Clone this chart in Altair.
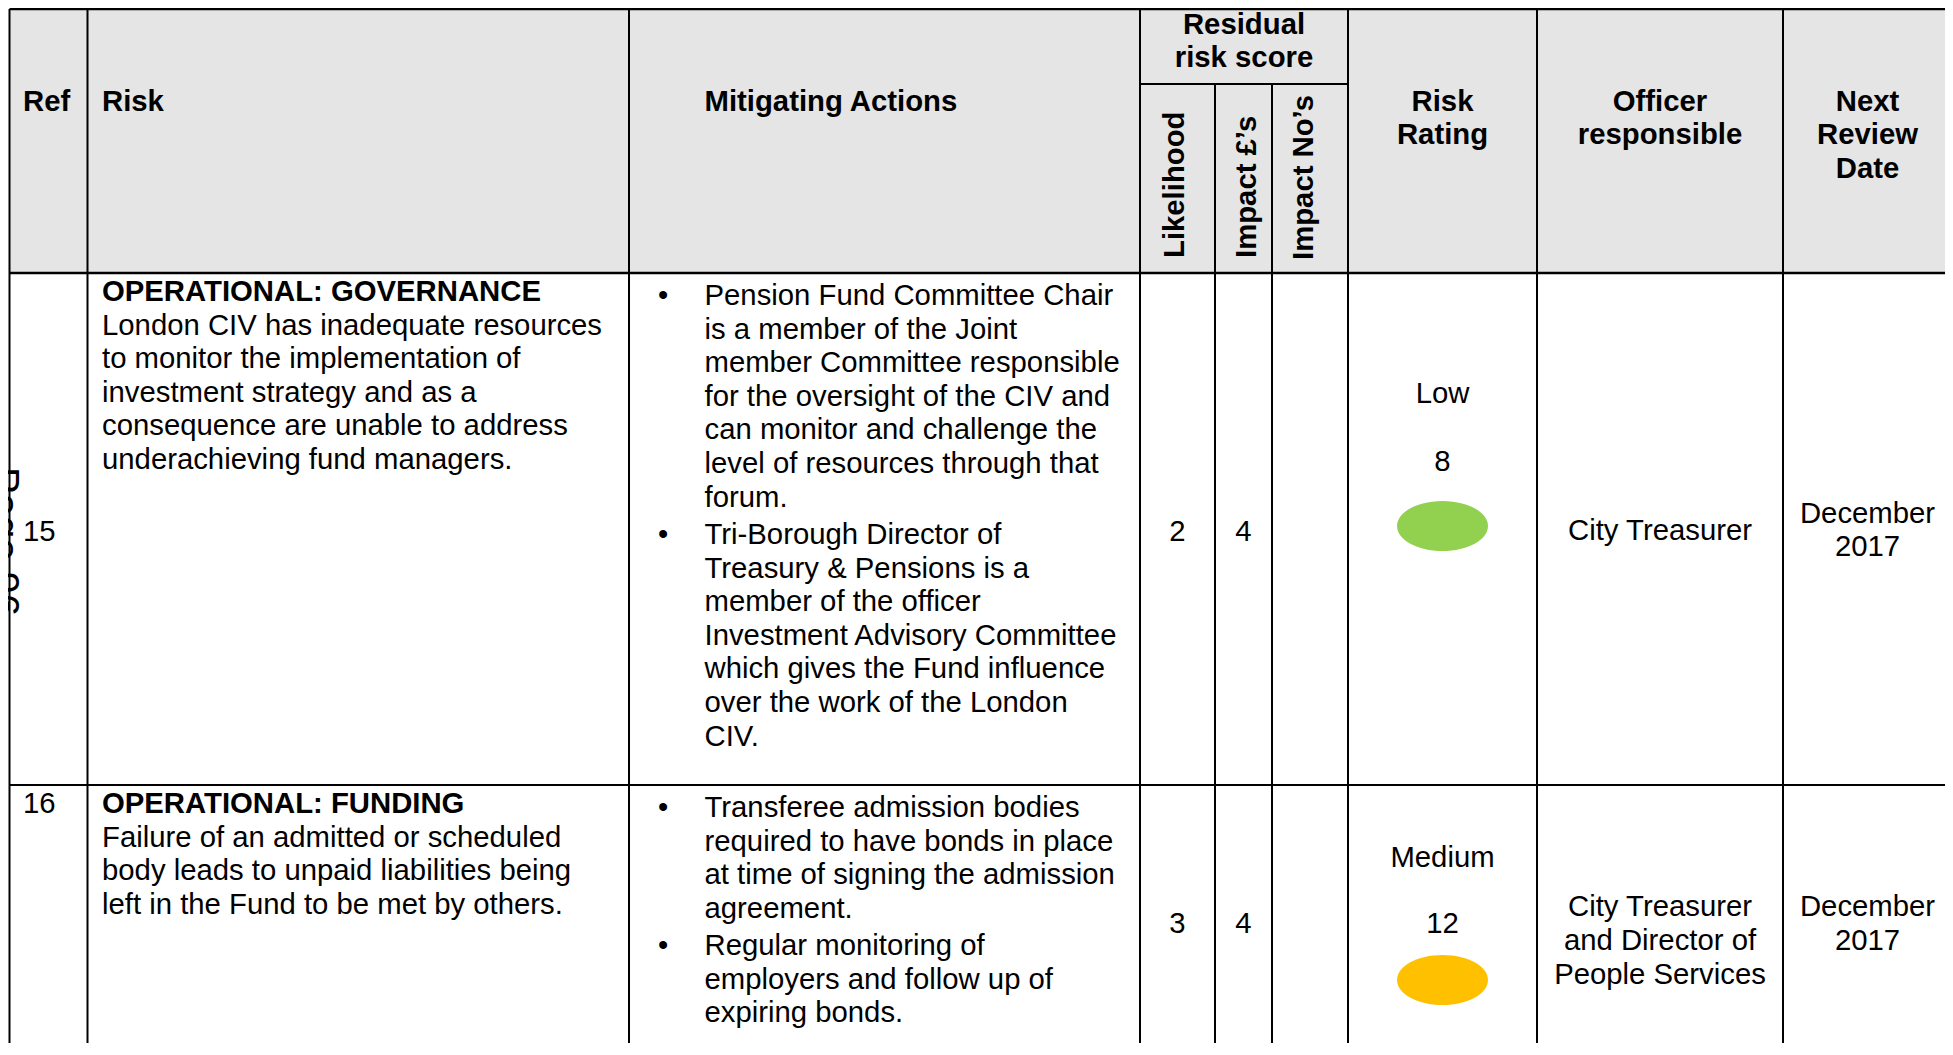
import altair as alt
import pandas as pd

# ---------------- data (table content) ----------------
header_left = ["Ref", "Risk", "Mitigating Actions"]
header_group = ["Residual", "risk score"]
header_rotated = ["Likelihood", "Impact £’s", "Impact No’s"]
header_rating = ["Risk", "Rating"]
header_officer = ["Officer", "responsible"]
header_review = ["Next", "Review", "Date"]

refs = ["15", "16"]
risk_titles = ["OPERATIONAL: GOVERNANCE", "OPERATIONAL: FUNDING"]
risk_lines = [
    ["London CIV has inadequate resources",
     "to monitor the implementation of",
     "investment strategy and as a",
     "consequence are unable to address",
     "underachieving fund managers."],
    ["Failure of an admitted or scheduled",
     "body leads to unpaid liabilities being",
     "left in the Fund to be met by others."],
]
actions = [
    [["Pension Fund Committee Chair",
      "is a member of the Joint",
      "member Committee responsible",
      "for the oversight of the CIV and",
      "can monitor and challenge the",
      "level of resources through that",
      "forum."],
     ["Tri-Borough Director of",
      "Treasury & Pensions is a",
      "member of the officer",
      "Investment Advisory Committee",
      "which gives the Fund influence",
      "over the work of the London",
      "CIV."]],
    [["Transferee admission bodies",
      "required to have bonds in place",
      "at time of signing the admission",
      "agreement."],
     ["Regular monitoring of",
      "employers and follow up of",
      "expiring bonds."]],
]
likelihood = [2, 3]
impact_money = [4, 4]
impact_numbers = ["", ""]
rating_labels = ["Low", "Medium"]
rating_scores = [8, 12]
rating_colors = ["#92D050", "#FFC000"]
officers = [["City Treasurer"], ["City Treasurer", "and Director of", "People Services"]]
review_dates = [["December", "2017"], ["December", "2017"]]
page_label = "Page 96"

# ---------------- layout (page pixel coordinates) ----------------
FONT = "Liberation Sans"
FS = 29.3
LH = 33.6
PARA_GAP = 3.8
MARGIN = 8
W, H = 1937, 1035

col_edges = [9.5, 87.5, 629, 1140, 1215, 1272, 1348, 1537, 1783, 1952]
table_top = 8.9
sub_rule_y = 84
header_bottom = 273
row_divider = 785
table_bottom = 1070


def mid(i):
    return (col_edges[i] + col_edges[i + 1]) / 2


ref_x, risk_x, bullet_x, action_x = 23, 102, 663, 704.5
rot_x = [1184, 1256, 1313]
rot_y = [258, 258, 260]

row_layout = [
    dict(ref_y=540.5, risk_y=301, act_y=305, score_y=540.5, label_y=403.3,
         rscore_y=470.5, dot_y=526, officer_y=540.3, date_y=522.8),
    dict(ref_y=813, risk_y=813, act_y=817, score_y=932.7, label_y=866.6,
         rscore_y=932.7, dot_y=980, officer_y=916.4, date_y=916.4),
]

# ---------------- build tables ----------------
texts = []


def add(t, x, y, kind):
    texts.append(dict(text=t, x=x, y=y, kind=kind))


# header
add(header_left[0], ref_x, 110.5, "left_bold")
add(header_left[1], risk_x, 110.5, "left_bold")
add(header_left[2], action_x, 110.5, "left_bold")
gx = (col_edges[3] + col_edges[6]) / 2
add(header_group[0], gx, 33.5, "center_bold")
add(header_group[1], gx, 67, "center_bold")
for lab, x, y in zip(header_rotated, rot_x, rot_y):
    add(lab, x, y, "rot_bold")
for i, t in enumerate(header_rating):
    add(t, mid(6), 110.5 + i * LH, "center_bold")
for i, t in enumerate(header_officer):
    add(t, mid(7), 110.5 + i * LH, "center_bold")
for i, t in enumerate(header_review):
    add(t, mid(8), 110.5 + i * LH, "center_bold")

# body rows
dots = []
for r, L in enumerate(row_layout):
    add(refs[r], ref_x, L["ref_y"], "left")
    add(risk_titles[r], risk_x, L["risk_y"], "left_bold")
    for i, line in enumerate(risk_lines[r]):
        add(line, risk_x, L["risk_y"] + (i + 1) * LH, "left")
    y = L["act_y"]
    for b, bullet in enumerate(actions[r]):
        if b > 0:
            y += PARA_GAP
        add("•", bullet_x, y, "center")
        for line in bullet:
            add(line, action_x, y, "left")
            y += LH
    add(str(likelihood[r]), mid(3), L["score_y"], "center")
    add(str(impact_money[r]), mid(4), L["score_y"], "center")
    if impact_numbers[r]:
        add(str(impact_numbers[r]), mid(5), L["score_y"], "center")
    add(rating_labels[r], mid(6), L["label_y"], "center")
    add(str(rating_scores[r]), mid(6), L["rscore_y"], "center")
    for i, t in enumerate(officers[r]):
        add(t, mid(7), L["officer_y"] + i * LH, "center")
    for i, t in enumerate(review_dates[r]):
        add(t, mid(8), L["date_y"] + i * LH, "center")
    dots.append(dict(x=mid(6), y=L["dot_y"], color=rating_colors[r]))

# page stamp in the left margin, mostly outside the page as in the scan
add(page_label, -9.5, 467, "page")

text_df = pd.DataFrame(texts)
dot_df = pd.DataFrame(dots)

rules = []
# horizontal
rules.append(dict(x=col_edges[0], x2=col_edges[-1], y=table_top, y2=table_top, w=2.5))
rules.append(dict(x=col_edges[3], x2=col_edges[6], y=sub_rule_y, y2=sub_rule_y, w=2))
rules.append(dict(x=col_edges[0], x2=col_edges[-1], y=header_bottom, y2=header_bottom, w=2.5))
rules.append(dict(x=col_edges[0], x2=col_edges[-1], y=row_divider, y2=row_divider, w=2))
# vertical
for i, cx in enumerate(col_edges):
    top = sub_rule_y if i in (4, 5) else table_top
    rules.append(dict(x=cx, x2=cx, y=top, y2=table_bottom, w=2))
rule_df = pd.DataFrame(rules)

header_df = pd.DataFrame([dict(x=col_edges[0], x2=col_edges[-1], y=table_top, y2=header_bottom)])

# ---------------- chart ----------------
xs = alt.Scale(domain=[MARGIN, MARGIN + W], range=[0, W], nice=False, zero=False)
ys = alt.Scale(domain=[MARGIN, MARGIN + H], range=[0, H], nice=False, zero=False)


def X(f="x"):
    return alt.X(f"{f}:Q", scale=xs, axis=None)


def Y(f="y"):
    return alt.Y(f"{f}:Q", scale=ys, axis=None)


header_bg = alt.Chart(header_df).mark_rect(color="#e5e5e5").encode(
    x=X(), x2="x2:Q", y=Y(), y2="y2:Q")

lines = alt.Chart(rule_df).mark_rule(color="#000000").encode(
    x=X(), x2="x2:Q", y=Y(), y2="y2:Q",
    strokeWidth=alt.StrokeWidth("w:Q", scale=None, legend=None))

ellipse = ("M -1 0 C -1 -0.3038 -0.5523 -0.55 0 -0.55 C 0.5523 -0.55 1 -0.3038 1 0 "
           "C 1 0.3038 0.5523 0.55 0 0.55 C -0.5523 0.55 -1 0.3038 -1 0 Z")
dots_layer = alt.Chart(dot_df).mark_point(
    shape=ellipse, filled=True, size=91 * 91, opacity=1, strokeWidth=0
).encode(x=X(), y=Y(), color=alt.Color("color:N", scale=None, legend=None))


def text_layer(kind, align, weight, angle=0, size=FS):
    sub = text_df[text_df["kind"] == kind]
    params = dict(align=align, baseline="alphabetic", font=FONT, fontSize=size,
                  fontWeight=weight, color="#000000")
    if angle:
        params["angle"] = angle
    return alt.Chart(sub).mark_text(**params).encode(x=X(), y=Y(), text="text:N")


layers = [
    header_bg,
    lines,
    dots_layer,
    text_layer("left", "left", "normal"),
    text_layer("left_bold", "left", "bold"),
    text_layer("center", "center", "normal"),
    text_layer("center_bold", "center", "bold"),
    text_layer("rot_bold", "left", "bold", angle=270),
    text_layer("page", "left", "normal", angle=90, size=40),
]

chart = alt.layer(*layers).properties(
    width=W, height=H, padding=0, autosize=alt.AutoSizeParams(type="none")
).configure_view(stroke=None)

chart.save("out.html", embed_options={"renderer": "svg", "actions": False})
